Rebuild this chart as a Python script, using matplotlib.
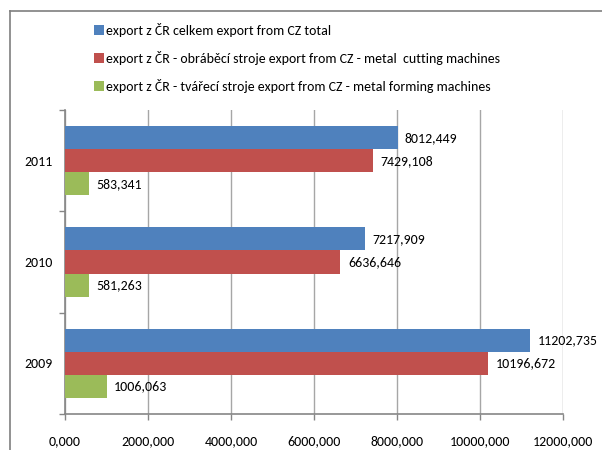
import matplotlib
matplotlib.use("Agg")
import matplotlib.pyplot as plt
from matplotlib import font_manager
from matplotlib.patches import Patch
from matplotlib.lines import Line2D
from matplotlib.ticker import FuncFormatter, MultipleLocator
import numpy as np

years = ["2009", "2010", "2011"]
total = [11202.735, 7217.909, 8012.449]
cutting = [10196.672, 6636.646, 7429.108]
forming = [1006.063, 581.263, 583.341]

series_labels = [
    "export z ČR celkem export from CZ total",
    "export z ČR - obráběcí stroje export from CZ - metal  cutting machines",
    "export z ČR - tvářecí stroje export from CZ - metal forming machines",
]
colors = ["#4F81BD", "#C0504D", "#9BBB59"]

# prefer a narrow sans if one is installed
installed = {f.name for f in font_manager.fontManager.ttflist}
family = "Liberation Sans"
for cand in ["Carlito", "Liberation Sans Narrow", "Roboto Condensed"]:
    if cand in installed:
        family = cand
        break
plt.rcParams["font.family"] = [family, "DejaVu Sans"]
fs = 10

def fmt(v):
    return f"{v:.3f}".replace(".", ",")

fig = plt.figure(figsize=(6.02, 4.5), dpi=100)
ax = fig.add_axes([65 / 602, (450 - 414) / 450, (563 - 65) / 602, (414 - 110) / 450])

y = np.arange(len(years))
h = 0.227
for i, (vals, c) in enumerate(zip([total, cutting, forming], colors)):
    pos = y + h - i * h
    bars = ax.barh(pos, vals, height=h, color=c, zorder=3)
    for b, v in zip(bars, vals):
        ax.text(b.get_width() + 180, b.get_y() + b.get_height() / 2, fmt(v),
                va="center", ha="left", fontsize=fs, color="black", zorder=4)

ax.set_xlim(0, 12000)
ax.set_ylim(-0.5, len(years) - 0.5)
ax.xaxis.set_major_locator(MultipleLocator(2000))
ax.xaxis.set_major_formatter(FuncFormatter(lambda v, p: fmt(v)))
ax.set_yticks(y)
ax.set_yticklabels(years)
ax.set_yticks(np.arange(len(years) + 1) - 0.5, minor=True)
ax.tick_params(axis="y", which="major", length=0, pad=9, labelsize=fs)
ax.tick_params(axis="y", which="minor", length=4, color="#868686", width=1)
ax.tick_params(axis="x", which="major", length=4, color="#868686", width=1,
               labelsize=fs, pad=11)

ax.grid(axis="x", color="#A6A6A6", linewidth=1, zorder=0)
for s in ["top", "right"]:
    ax.spines[s].set_visible(False)
for s in ["left", "bottom"]:
    ax.spines[s].set_color("#868686")
    ax.spines[s].set_linewidth(1.2)

handles = [Patch(facecolor=c, edgecolor="none") for c in colors]
fig.legend(handles, series_labels, loc="upper left",
           bbox_to_anchor=(94 / 602, 1 - 23 / 450), frameon=False,
           fontsize=fs, handlelength=0.75, handleheight=0.75,
           handletextpad=0.15, labelspacing=1.0, borderaxespad=0,
           borderpad=0)

# outer chart frame
fig.add_artist(Line2D([10 / 602, 10 / 602], [0, 1 - 11 / 450],
                      transform=fig.transFigure, color="#7F7F7F", linewidth=1.2))
fig.add_artist(Line2D([10 / 602, 1], [1 - 11 / 450, 1 - 11 / 450],
                      transform=fig.transFigure, color="#7F7F7F", linewidth=1.2))

fig.savefig("out.png", dpi=100, facecolor="white")
